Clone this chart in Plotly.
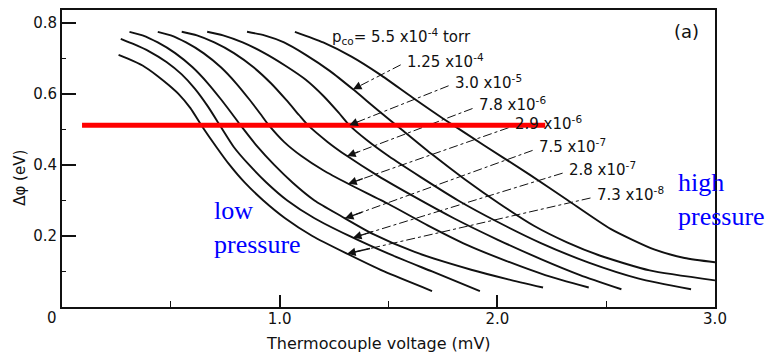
import numpy as np
import plotly.graph_objects as go

# ---- data: thermocouple voltage (mV) vs work-function change (eV) ----
pressure_labels = ["5.5 x10<sup>-4</sup>", "1.25 x10<sup>-4</sup>", "3.0 x10<sup>-5</sup>",
                   "7.8 x10<sup>-6</sup>", "2.9 x10<sup>-6</sup>", "7.5 x10<sup>-7</sup>",
                   "2.8 x10<sup>-7</sup>", "7.3 x10<sup>-8</sup>"]

v_55e4 = [1.07, 1.20, 1.33, 1.46, 1.61, 1.75, 1.94, 2.15, 2.32, 2.52, 2.72, 2.86, 3.0]
d_55e4 = [0.775, 0.745, 0.705, 0.655, 0.59, 0.531, 0.455, 0.372, 0.302, 0.22, 0.162, 0.138, 0.126]

v_125e4 = [0.85, 0.93, 1.02, 1.12, 1.23, 1.337, 1.45, 1.57, 1.70, 1.85, 2.01, 2.17, 2.32, 2.47, 2.70, 3.0]
d_125e4 = [0.775, 0.765, 0.745, 0.71, 0.665, 0.613, 0.555, 0.495, 0.43, 0.36, 0.291, 0.228, 0.182, 0.145, 0.103, 0.075]

v_30e5 = [0.667, 0.74, 0.83, 0.93, 1.03, 1.12, 1.20, 1.27, 1.32, 1.40, 1.50, 1.65, 1.82, 2.00, 2.20, 2.42, 2.65, 2.89]
d_30e5 = [0.775, 0.765, 0.745, 0.715, 0.678, 0.64, 0.595, 0.548, 0.512, 0.47, 0.425, 0.365, 0.30, 0.24, 0.18, 0.125, 0.08, 0.05]

v_78e6 = [0.55, 0.62, 0.70, 0.79, 0.88, 0.96, 1.03, 1.09, 1.13, 1.22, 1.31, 1.45, 1.62, 1.80, 2.00, 2.20, 2.38, 2.57]
d_78e6 = [0.775, 0.765, 0.745, 0.715, 0.675, 0.63, 0.583, 0.54, 0.512, 0.465, 0.425, 0.37, 0.31, 0.25, 0.19, 0.135, 0.09, 0.05]

v_29e6 = [0.44, 0.50, 0.57, 0.65, 0.73, 0.80, 0.86, 0.91, 0.95, 1.02, 1.10, 1.20, 1.315, 1.50, 1.68, 1.86, 2.04, 2.22, 2.42]
d_29e6 = [0.775, 0.765, 0.745, 0.715, 0.675, 0.63, 0.585, 0.545, 0.512, 0.465, 0.425, 0.385, 0.347, 0.29, 0.23, 0.175, 0.13, 0.09, 0.055]

v_75e7 = [0.31, 0.37, 0.44, 0.52, 0.60, 0.67, 0.73, 0.78, 0.82, 0.90, 0.975, 1.06, 1.16, 1.285, 1.43, 1.62, 1.88, 2.05, 2.21]
d_75e7 = [0.775, 0.765, 0.745, 0.715, 0.675, 0.63, 0.585, 0.545, 0.512, 0.45, 0.40, 0.35, 0.30, 0.255, 0.205, 0.155, 0.105, 0.078, 0.055]

v_28e7 = [0.27, 0.33, 0.40, 0.48, 0.55, 0.61, 0.67, 0.725, 0.79, 0.86, 0.94, 1.035, 1.16, 1.32, 1.50, 1.70, 1.92]
d_28e7 = [0.755, 0.74, 0.72, 0.69, 0.655, 0.615, 0.565, 0.512, 0.45, 0.40, 0.35, 0.30, 0.25, 0.20, 0.15, 0.10, 0.045]

v_73e8 = [0.26, 0.30, 0.37, 0.44, 0.49, 0.535, 0.59, 0.64, 0.71, 0.77, 0.84, 0.925, 1.025, 1.15, 1.31, 1.48, 1.70]
d_73e8 = [0.71, 0.70, 0.68, 0.65, 0.625, 0.60, 0.56, 0.512, 0.45, 0.40, 0.35, 0.30, 0.25, 0.20, 0.15, 0.10, 0.045]

curves_v = [v_55e4, v_125e4, v_30e5, v_78e6, v_29e6, v_75e7, v_28e7, v_73e8]
curves_d = [d_55e4, d_125e4, d_30e5, d_78e6, d_29e6, d_75e7, d_28e7, d_73e8]

# label anchor positions (mV, eV) and where the leader arrow meets each curve (mV)
label_x = [1.231, 1.576, 1.796, 1.906, 2.072, 2.182, 2.320, 2.448]
label_y = [0.761, 0.694, 0.635, 0.571, 0.517, 0.453, 0.389, 0.319]
arrow_v = [None, 1.337, 1.32, 1.31, 1.315, 1.30, 1.337, 1.31]

red_level = 0.512
red_span = [0.092, 2.22]

x_ticks = [0, 1, 2, 3]
x_ticktext = ["", "1.0", "2.0", "3.0"]
y_ticks = [0.2, 0.4, 0.6, 0.8]
y_ticktext = ["0.2", "0.4", "0.6", "0.8"]

INK = "#111111"
fig = go.Figure()

for v, d in zip(curves_v, curves_d):
    fig.add_trace(go.Scatter(x=v, y=d, mode="lines",
                             line=dict(color=INK, width=1.9, shape="spline", smoothing=0.6),
                             hoverinfo="skip", showlegend=False))

annotations = []
for i, lab in enumerate(pressure_labels):
    text = ("p<sub>co</sub>= " + lab + " torr") if i == 0 else lab
    annotations.append(dict(x=label_x[i], y=label_y[i], xref="x", yref="y", text=text, showarrow=False,
                            xanchor="left", yanchor="middle",
                            font=dict(family="DejaVu Sans", size=15, color=INK)))
    if arrow_v[i] is not None:
        tx = arrow_v[i]
        ty = float(np.interp(tx, curves_v[i], curves_d[i]))
        sx = label_x[i] - 0.02
        sy = label_y[i] - 0.012
        fig.add_trace(go.Scatter(x=[sx, tx], y=[sy, ty], mode="lines",
                                 line=dict(color=INK, width=1, dash="dashdot"),
                                 hoverinfo="skip", showlegend=False))
        annotations.append(dict(x=tx, y=ty, ax=tx + 0.1 * (sx - tx), ay=ty + 0.1 * (sy - ty),
                                xref="x", yref="y", axref="x", ayref="y", text="",
                                showarrow=True, arrowhead=2, arrowsize=1.3, arrowwidth=1.3,
                                arrowcolor=INK))

fig.add_trace(go.Scatter(x=red_span, y=[red_level, red_level], mode="lines",
                         line=dict(color="#ff0000", width=5), hoverinfo="skip", showlegend=False))

# texts placed by pixel position in the 769x356 frame
px_texts = [
    dict(x=686, y=30, text="(a)", font=dict(family="DejaVu Sans", size=18, color=INK)),
    dict(x=52, y=318, text="0", font=dict(family="DejaVu Sans", size=15, color=INK)),
    dict(x=378, y=344, text="Thermocouple voltage (mV)", font=dict(family="DejaVu Sans", size=16, color=INK)),
    dict(x=20, y=177, text="Δφ (eV)", textangle=-90, font=dict(family="DejaVu Sans", size=15, color=INK)),
    dict(x=212, y=193, text="low<br>pressure", xanchor="left", yanchor="top", align="left",
         font=dict(family="Liberation Serif", size=26, color="#0000ff")),
    dict(x=676, y=165, text="high<br>pressure", xanchor="left", yanchor="top", align="left",
         font=dict(family="Liberation Serif", size=26, color="#0000ff")),
]

L, R, T, B = 62, 54, 8, 49
W, H = 769, 356
pw, ph = W - L - R, H - T - B
for a in px_texts:
    a.setdefault("xanchor", "center")
    a.setdefault("yanchor", "middle")
    a["x"] = (a["x"] - L) / pw
    a["y"] = (H - B - a["y"]) / ph
    a.update(xref="paper", yref="paper", showarrow=False)
    annotations.append(a)

fig.update_layout(
    width=W, height=H, margin=dict(l=L, r=R, t=T, b=B),
    paper_bgcolor="white", plot_bgcolor="white",
    annotations=annotations, showlegend=False,
    xaxis=dict(range=[0, 3.0], tickmode="array", tickvals=x_ticks, ticktext=x_ticktext,
               ticks="inside", ticklen=12, tickwidth=1.5, tickcolor=INK, ticklabelstandoff=-3,
               minor=dict(tickmode="array", tickvals=[0.5, 1.5, 2.5], ticks="inside", ticklen=6,
                          tickwidth=1.2, tickcolor=INK),
               showline=True, linecolor=INK, linewidth=1.8, mirror=True, showgrid=False, zeroline=False,
               tickfont=dict(family="DejaVu Sans", size=15, color=INK)),
    yaxis=dict(range=[0, 0.8364], tickmode="array", tickvals=y_ticks, ticktext=y_ticktext,
               ticks="inside", ticklen=14, tickwidth=1.5, tickcolor=INK,
               minor=dict(tickmode="array", tickvals=[0.1, 0.3, 0.5, 0.7], ticks="inside", ticklen=4,
                          tickwidth=1.2, tickcolor=INK),
               showline=True, linecolor=INK, linewidth=1.8, mirror=True, showgrid=False, zeroline=False,
               tickfont=dict(family="DejaVu Sans", size=15, color=INK)),
)

fig.write_html("out.html")
